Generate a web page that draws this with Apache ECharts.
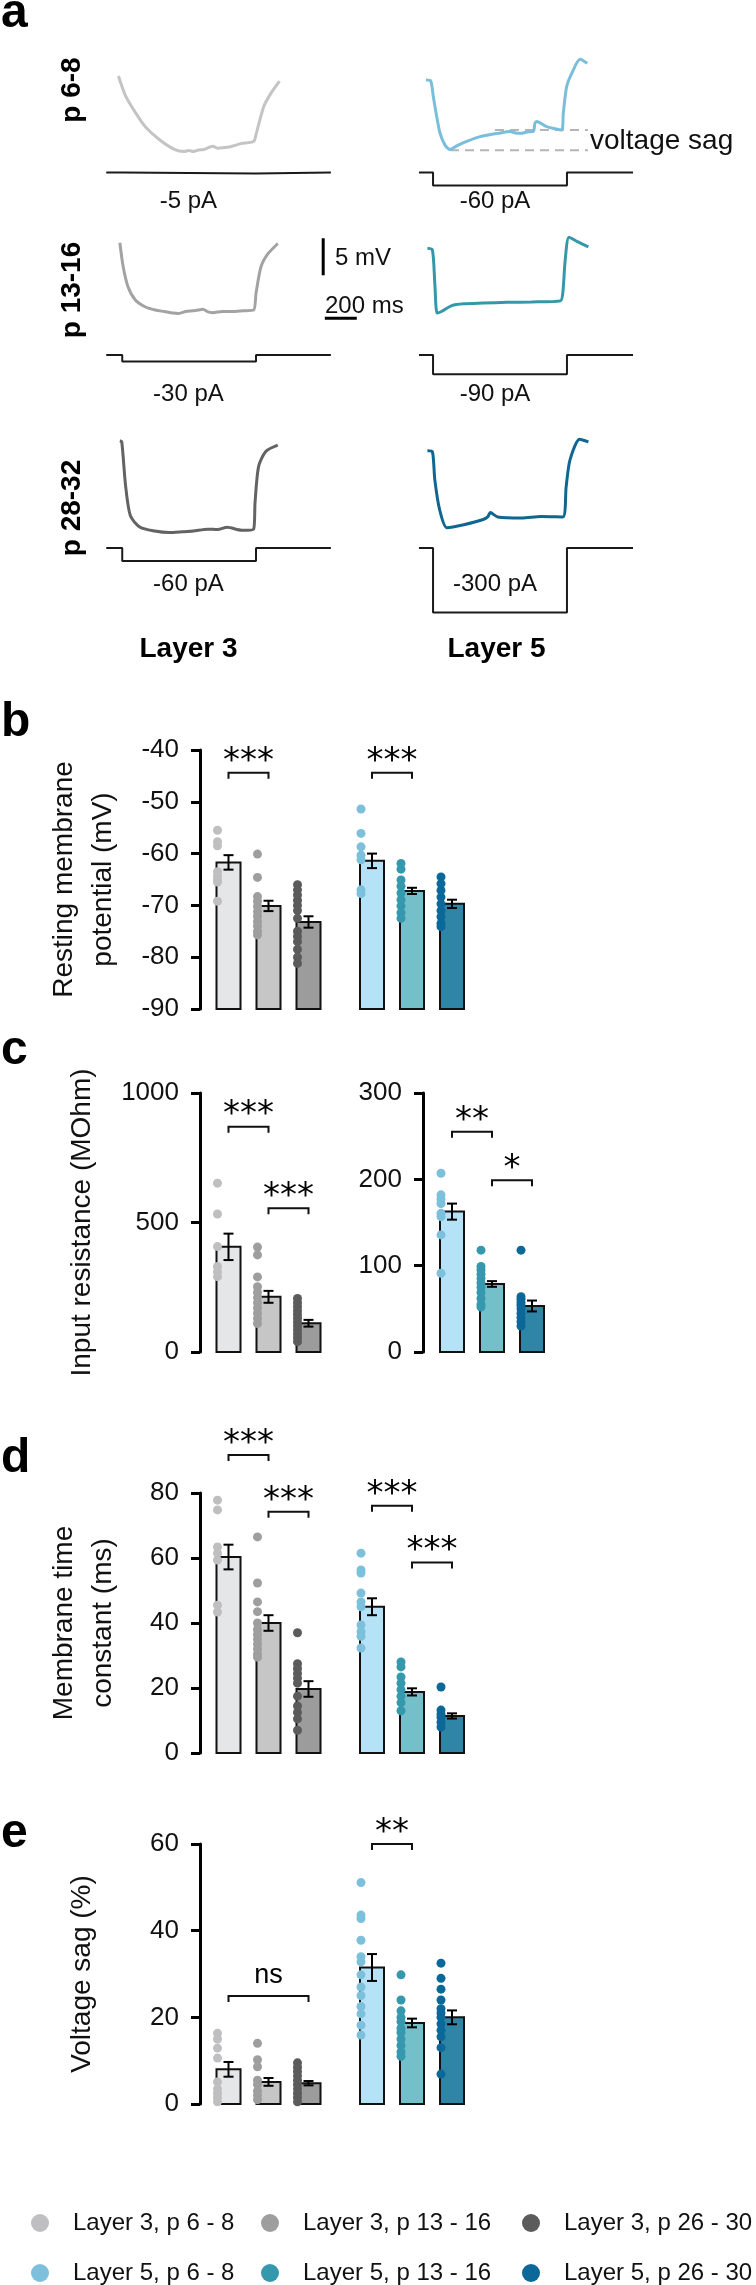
<!DOCTYPE html>
<html><head><meta charset="utf-8">
<script src="https://cdn.jsdelivr.net/npm/echarts@6/dist/echarts.min.js"></script>
<style>html,body{margin:0;padding:0;background:#fff}#chart{width:756px;height:2285px}</style>
</head><body><div id="chart"></div>
<script>
// ---------------- DATA ----------------
const groupsL3 = ['Layer 3, p 6 - 8', 'Layer 3, p 13 - 16', 'Layer 3, p 26 - 30'];
const groupsL5 = ['Layer 5, p 6 - 8', 'Layer 5, p 13 - 16', 'Layer 5, p 26 - 30'];
const rowLabels = ['p 6-8', 'p 13-16', 'p 28-32'];
const layerLabels = ['Layer 3', 'Layer 5'];

// example voltage traces: [time (ms), membrane potential change (mV)]
const traceL3_p6 = [[0,0],[47,-2.8],[108,-5.0],[168,-6.85],[259,-8.65],[349,-9.9],[410,-10.2],[440,-10.05],[470,-10.2],[500,-10.0],[531,-9.95],[560,-9.7],[591,-9.5],[620,-9.75],[651,-9.7],[700,-9.55],[740,-9.3],[772,-9.1],[810,-9.0],[847,-8.8],[862,-7.75],[908,-4.15],[953,-2.35],[1007,-0.7]];
const traceL5_p6 = [[0,0],[29,-0.1],[46,-2.3],[67,-4.95],[88,-7.2],[119,-8.8],[150,-9.4],[192,-8.9],[254,-8.3],[338,-7.65],[421,-7.3],[450,-7.2],[525,-6.95],[560,-7.15],[588,-7.2],[640,-7.0],[671,-6.95],[681,-5.85],[692,-5.6],[754,-6.3],[848,-6.75],[858,-4.5],[879,-0.9],[911,0.9],[963,2.8],[1008,2.25]];
const traceL3_p13 = [[9,0],[30,-3.25],[60,-5.95],[106,-7.75],[166,-8.65],[230,-9.1],[287,-9.3],[340,-9.5],[377,-9.55],[420,-9.3],[468,-9.2],[500,-9.1],[528,-9.0],[560,-9.35],[589,-9.45],[650,-9.3],[709,-9.3],[780,-9.2],[845,-9.1],[860,-6.85],[891,-3.25],[936,-1.45],[996,-0.1]];
const traceL5_p13 = [[9,0],[40,-0.23],[55,-4.7],[70,-8.75],[100,-8.5],[161,-7.75],[236,-7.5],[356,-7.4],[508,-7.3],[659,-7.25],[840,-7.1],[855,-6.05],[870,-1.6],[894,1.5],[946,0.9],[1015,0.2]];
const traceL3_p28 = [[9,0],[21,-0.14],[45,-6.1],[75,-10.15],[136,-11.7],[227,-12.2],[317,-12.4],[400,-12.3],[468,-12.2],[558,-11.95],[620,-12.0],[680,-11.7],[770,-12.1],[845,-11.95],[854,-8.35],[876,-3.5],[921,-1.45],[996,-0.6]];
const traceL5_p28 = [[9,0],[40,-0.14],[55,-3.9],[85,-7.95],[131,-10.4],[236,-10.0],[357,-9.3],[387,-8.9],[402,-8.35],[448,-8.95],[598,-9.1],[719,-8.9],[855,-8.95],[876,-4.85],[900,-1.25],[961,1.55],[1015,1.2]];
// injected current steps (pA) and timing (ms): [line start, step on, step off, line end]
const stimL3 = [-5, -30, -60];
const stimL5 = [-60, -90, -300];
const stimTimesL3 = [-76, 24, 860, 1328];
const stimTimesL5 = [-44, 44, 881, 1294];
const sagUpperMv = -6.75, sagLowerMv = -9.5;
const scaleBarMv = 5, scaleBarMs = 200;

// b: resting membrane potential (mV)
const rmpMeanL3 = [-61.7, -70.1, -73.2];
const rmpSemL3 = [1.4, 1.0, 1.1];
const rmpDotsL3 = [[-55.5,-57.7,-58.5,-63.5,-64.3,-65,-65.5,-69.2],[-60.1,-64.6,-68.3,-69.2,-70.2,-71.2,-72.1,-73.1,-74,-75,-75.7],[-66,-67,-68,-69,-70,-71,-72.5,-75,-76,-77,-78.5,-80,-81.2]];
const rmpMeanL5 = [-61.4, -67.2, -69.7];
const rmpSemL5 = [1.4, 0.6, 0.8];
const rmpDotsL5 = [[-51.4,-56.1,-58.7,-60.3,-61.2,-67,-67.7],[-61.9,-63,-65.1,-66.3,-67.6,-68.9,-70.1,-71.4,-72.5],[-64.5,-65.8,-67.1,-68.4,-69.7,-71,-72.2,-73.5,-74.1]];
const rmpSigL3 = [[0,1,-44.4,'***']];
const rmpSigL5 = [[0,1,-44.4,'***']];

// c: input resistance (MOhm)
const rinMeanL3 = [406, 213, 111];
const rinSemL3 = [51, 23, 13];
const rinDotsL3 = [[652,533,407,330,310,291],[405,375,290,252,230,210,190,170,150,130,110],[207,190,175,160,145,130,115,100,85,70,55,40]];
const rinMeanL5 = [162.6, 78.8, 53.3];
const rinSemL5 = [9.3, 3.3, 6.3];
const rinDotsL5 = [[207,182,177,172,160.6,156.8,135.6,91.2],[118,99,95,90,85,80,75,69,62,55,52],[118,64,61,57,54,50,45,40,35,30]];
const rinSigL3 = [[0,1,870,'***'],[1,2,555,'***']];
const rinSigL5 = [[0,1,255,'**'],[1,2,199,'*']];

// d: membrane time constant (ms)
const tauMeanL3 = [60.3, 40, 19.7];
const tauSemL3 = [3.8, 2.4, 2.4];
const tauDotsL3 = [[77.8,74.8,63.4,61.5,59.4,45.5,43.4],[66.5,52.3,46.5,43.5,40,38,36.5,35,33.5,32,30.5,29.5],[37,27.5,26,24.5,23,21.5,17.5,14.5,12.5,10.5,7]];
const tauMeanL5 = [45, 18.8, 11.4];
const tauSemL5 = [2.6, 1.1, 0.8];
const tauDotsL5 = [[61.5,56.3,55.4,49.2,46.5,45,39.4,37.3,35.9,32.3],[28,26.5,23.4,21.5,19.5,17.5,15.5,13],[20.3,13.2,12,11,9.5,8]];
const tauSigL3 = [[0,1,91.7,'***'],[1,2,74.2,'***']];
const tauSigL5 = [[0,1,76.1,'***'],[1,2,58.6,'***']];

// e: voltage sag (%)
const sagMeanL3 = [8.0, 5.1, 4.8];
const sagSemL3 = [1.7, 0.9, 0.5];
const sagDotsL3 = [[16.3,15,12.9,10.6,5.1,3.5,2.5,1.5,0.5],[14,10.2,8.6,5.5,4.5,3,2,1],[9.5,8.5,7.5,6.5,5.5,4.5,3.5,2.5,1.5,0.5]];
const sagMeanL5 = [31.5, 18.7, 20];
const sagSemL5 = [3.1, 1.0, 1.6];
const sagDotsL5 = [[51.1,43.6,42.8,37.8,34,32.8,29.8,27,25,22.5,20.8,18.2,15.9],[29.8,24,21.5,20,19,17.5,16.5,15,13.5,12,11],[32.5,29,26.5,24,22,21,20,18.5,17,15.5,13,6.9]];
const sagSigL3 = [[0,2,24.9,'ns']];
const sagSigL5 = [[0,1,60,'**']];

// ---------------- STYLE ----------------
const FONT = 'Liberation Sans, Arial, Helvetica, sans-serif';
const barColL3 = ['#e5e6e7', '#c6c6c6', '#9c9c9c'];
const barColL5 = ['#b5e2f6', '#73bfca', '#2f85a6'];
const dotColL3 = ['#bfbfc1', '#9e9e9e', '#5b5b5b'];
const dotColL5 = ['#7cc0dc', '#3698ad', '#0b6898'];
const traceColL3 = ['#c4c4c4', '#a3a3a3', '#636363'];
const traceColL5 = ['#79bedb', '#3597aa', '#0f6690'];

const grids = [], xAxes = [], yAxes = [], series = [], graphics = [];
function addGrid(g, xa, ya) {
  g.outerBoundsMode = 'none';
  grids.push(g); const i = grids.length - 1;
  xa.gridIndex = i; ya.gridIndex = i; xAxes.push(xa); yAxes.push(ya); return i;
}

// ---------------- PANEL A ----------------
const MS_PX = 6.25, MV_PX = 0.1351, PA_PX = 1 / 0.215;
const tMin = -100, tMax = 1550;
const colT0 = [118.4, 426];
const traceY0 = [[76, 242.7, 440.7], [80, 248.3, 450.7]];
const stimBase = [172.5, 355, 548];
const traces = [[traceL3_p6, traceL3_p13, traceL3_p28], [traceL5_p6, traceL5_p13, traceL5_p28]];
const traceCols = [traceColL3, traceColL5];
const stims = [stimL3, stimL5];
const stimTimes = [stimTimesL3, stimTimesL5];
const vMin = -14, vMax = 5, iMin = -320, iMax = 20;
const traceGridIdx = [[], []];
for (let c = 0; c < 2; c++) {
  for (let r = 0; r < 3; r++) {
    const left = colT0[c] + tMin / MS_PX;
    const width = (tMax - tMin) / MS_PX;
    const gi = addGrid({left: left, top: traceY0[c][r] - vMax / MV_PX, width: width, height: (vMax - vMin) / MV_PX},
      {type: 'value', min: tMin, max: tMax, show: false},
      {type: 'value', min: vMin, max: vMax, show: false});
    traceGridIdx[c][r] = gi;
    series.push({type: 'line', xAxisIndex: gi, yAxisIndex: gi, data: traces[c][r], showSymbol: false, smooth: 0.25,
      lineStyle: {color: traceCols[c][r], width: 3}, silent: true, z: 2});
    const gs = addGrid({left: left, top: stimBase[r] - iMax / PA_PX, width: width, height: (iMax - iMin) / PA_PX},
      {type: 'value', min: tMin, max: tMax, show: false},
      {type: 'value', min: iMin, max: iMax, show: false});
    const t = stimTimes[c], a = stims[c][r];
    series.push({type: 'line', xAxisIndex: gs, yAxisIndex: gs, showSymbol: false, silent: true,
      data: [[t[0],0],[t[1],0],[t[1],a],[t[2],a],[t[2],0],[t[3],0]],
      lineStyle: {color: '#1a1a1a', width: 2}});
    graphics.push({type: 'text', x: colT0[c] + (c === 0 ? 70 : 69), y: [201, 394.5, 584][r],
      style: {text: a + ' pA', font: '24px ' + FONT, fill: '#111', align: 'center', verticalAlign: 'middle'}});
  }
}
// voltage sag dashed guides (L5, p 6-8)
series.push({type: 'line', xAxisIndex: traceGridIdx[1][0], yAxisIndex: traceGridIdx[1][0], showSymbol: false, silent: true,
  data: [[431, sagUpperMv], [1012, sagUpperMv]], lineStyle: {color: '#b5b5b5', width: 2, type: [9, 6]}, z: 1});
series.push({type: 'line', xAxisIndex: traceGridIdx[1][0], yAxisIndex: traceGridIdx[1][0], showSymbol: false, silent: true,
  data: [[150, sagLowerMv], [1012, sagLowerMv]], lineStyle: {color: '#b5b5b5', width: 2, type: [9, 6]}, z: 1});
// scale bars (in L3 p13-16 trace grid)
const sbG = traceGridIdx[0][1];
series.push({type: 'line', xAxisIndex: sbG, yAxisIndex: sbG, showSymbol: false, silent: true,
  data: [[1280, 0.6], [1280, 0.6 - scaleBarMv]], lineStyle: {color: '#000', width: 3}});
series.push({type: 'line', xAxisIndex: sbG, yAxisIndex: sbG, showSymbol: false, silent: true,
  data: [[1290, -10.2], [1290 + scaleBarMs, -10.2]], lineStyle: {color: '#000', width: 3}});
graphics.push({type: 'text', x: 335, y: 258, style: {text: scaleBarMv + ' mV', font: '24px ' + FONT, fill: '#111', align: 'left', verticalAlign: 'middle'}});
graphics.push({type: 'text', x: 325, y: 306, style: {text: scaleBarMs + ' ms', font: '24px ' + FONT, fill: '#111', align: 'left', verticalAlign: 'middle'}});
graphics.push({type: 'text', x: 590, y: 141.6, style: {text: 'voltage sag', font: '28px ' + FONT, fill: '#111', align: 'left', verticalAlign: 'middle'}});
const rowY = [90, 290, 508];
rowLabels.forEach((t, r) => graphics.push({type: 'text', x: 72, y: rowY[r], rotation: Math.PI / 2,
  style: {text: t, font: 'bold 28px ' + FONT, fill: '#000', align: 'center', verticalAlign: 'middle'}}));
layerLabels.forEach((t, c) => graphics.push({type: 'text', x: [188.5, 496.5][c], y: 649.6,
  style: {text: t, font: 'bold 28px ' + FONT, fill: '#000', align: 'center', verticalAlign: 'middle'}}));
[['a', 13.6], ['b', 722.6], ['c', 1050.6], ['d', 1458.6], ['e', 1833.6]].forEach(p => graphics.push({type: 'text', x: 1, y: p[1],
  style: {text: p[0], font: 'bold 48px ' + FONT, fill: '#000', align: 'left', verticalAlign: 'middle'}}));

// ---------------- PANELS B-E ----------------
function barRender(colors, min) {
  return function (params, api) {
    const i = api.value(0);
    const top = api.coord([i, api.value(1)]);
    const base = api.coord([i, min]);
    return {type: 'rect', shape: {x: top[0] - 12, y: top[1], width: 24, height: base[1] - top[1]},
      style: {fill: colors[i], stroke: '#111', lineWidth: 2}};
  };
}
function errRender(params, api) {
  const i = api.value(0), m = api.value(1), s = api.value(2);
  const hi = api.coord([i, m + s]), lo = api.coord([i, m - s]);
  const x = hi[0], st = {stroke: '#000', lineWidth: 2};
  return {type: 'group', children: [
    {type: 'line', shape: {x1: x, y1: hi[1], x2: x, y2: lo[1]}, style: st},
    {type: 'line', shape: {x1: x - 5, y1: hi[1], x2: x + 5, y2: hi[1]}, style: st},
    {type: 'line', shape: {x1: x - 5, y1: lo[1], x2: x + 5, y2: lo[1]}, style: st}]};
}
function sigRender(labels) {
  return function (params, api) {
    const a = api.coord([api.value(0), api.value(2)]);
    const b = api.coord([api.value(1), api.value(2)]);
    const lab = labels[params.dataIndex];
    const star = lab.indexOf('*') >= 0;
    return {type: 'group', children: [
      {type: 'polyline', shape: {points: [[a[0], a[1] + 6], [a[0], a[1]], [b[0], b[1]], [b[0], b[1] + 6]]},
        style: {stroke: '#111', fill: null, lineWidth: 2}},
      {type: 'text', x: (a[0] + b[0]) / 2, y: a[1] - (star ? 11 : 21),
        style: {text: lab, fill: '#000', font: star ? '34px DejaVu Sans' : '27px ' + FONT, align: 'center', verticalAlign: 'middle'}}]};
  };
}
function valueAxis(min, max, interval, visible, offset, name, nameGap) {
  const ax = {type: 'value', min: min, max: max, interval: interval, splitLine: {show: false}};
  if (!visible) { ax.show = false; return ax; }
  Object.assign(ax, {offset: offset,
    axisLine: {show: true, lineStyle: {color: '#000', width: 3}},
    axisTick: {show: true, length: 9, lineStyle: {color: '#000', width: 3}},
    axisLabel: {fontSize: 26, color: '#111', margin: 21, fontFamily: FONT, formatter: v => String(v)}});
  if (name) Object.assign(ax, {name: name, nameLocation: 'middle', nameRotate: 90, nameGap: nameGap,
    nameTextStyle: {fontSize: 28, lineHeight: 39, color: '#111', fontFamily: FONT}});
  return ax;
}
function addGroup(gridBox, yAx, names, mean, sem, dots, sig, barCols, dotCols, min) {
  const gi = addGrid(gridBox, {type: 'category', data: names, show: false}, yAx);
  series.push({type: 'custom', xAxisIndex: gi, yAxisIndex: gi, renderItem: barRender(barCols, min), silent: true, z: 1,
    data: mean.map((m, i) => [i, m])});
  names.forEach((n, k) => series.push({type: 'scatter', name: n, xAxisIndex: gi, yAxisIndex: gi, z: 2,
    symbolSize: 9, symbolOffset: [-11, 0], itemStyle: {color: dotCols[k], opacity: 1},
    data: dots[k].map(v => [k, v])}));
  series.push({type: 'custom', xAxisIndex: gi, yAxisIndex: gi, renderItem: errRender, silent: true, z: 3,
    encode: {x: 0, y: 1}, data: mean.map((m, i) => [i, m, sem[i]])});
  series.push({type: 'custom', xAxisIndex: gi, yAxisIndex: gi, renderItem: sigRender(sig.map(s => s[3])), silent: true, z: 3,
    encode: {x: 0, y: 2}, data: sig.map(s => [s[0], s[1], s[2]])});
}
const panels = [
  {top: 750, h: 259, min: -90, max: -40, iv: 10, name: 'Resting membrane\npotential (mV)', gap: 77,
   L3: [rmpMeanL3, rmpSemL3, rmpDotsL3, rmpSigL3], L5: [rmpMeanL5, rmpSemL5, rmpDotsL5, rmpSigL5], right: null},
  {top: 1093, h: 259, min: 0, max: 1000, iv: 500, name: 'Input resistance (MOhm)', gap: 98,
   L3: [rinMeanL3, rinSemL3, rinDotsL3, rinSigL3], L5: [rinMeanL5, rinSemL5, rinDotsL5, rinSigL5], right: {min: 0, max: 300, iv: 100}},
  {top: 1493, h: 260, min: 0, max: 80, iv: 20, name: 'Membrane time\nconstant (ms)', gap: 77,
   L3: [tauMeanL3, tauSemL3, tauDotsL3, tauSigL3], L5: [tauMeanL5, tauSemL5, tauDotsL5, tauSigL5], right: null},
  {top: 1844, h: 260, min: 0, max: 60, iv: 20, name: 'Voltage sag (%)', gap: 98,
   L3: [sagMeanL3, sagSemL3, sagDotsL3, sagSigL3], L5: [sagMeanL5, sagSemL5, sagDotsL5, sagSigL5], right: null}
];
panels.forEach(p => {
  addGroup({left: 208.5, top: p.top, width: 120, height: p.h},
    valueAxis(p.min, p.max, p.iv, true, 8.5, p.name, p.gap),
    groupsL3, p.L3[0], p.L3[1], p.L3[2], p.L3[3], barColL3, dotColL3, p.min);
  if (p.right) {
    addGroup({left: 432, top: p.top, width: 120, height: p.h},
      valueAxis(p.right.min, p.right.max, p.right.iv, true, 9, null, 0),
      groupsL5, p.L5[0], p.L5[1], p.L5[2], p.L5[3], barColL5, dotColL5, p.right.min);
  } else {
    addGroup({left: 352, top: p.top, width: 120, height: p.h},
      valueAxis(p.min, p.max, p.iv, false),
      groupsL5, p.L5[0], p.L5[1], p.L5[2], p.L5[3], barColL5, dotColL5, p.min);
  }
});

// legend: one component per entry, laid out in 2 rows x 3 columns
const legendColLeft = [31, 261, 522];
const legendRowTop = [2211, 2261];
const legends = [];
[groupsL3, groupsL5].forEach((row, r) => row.forEach((name, c) => legends.push({
  data: [name], left: legendColLeft[c], top: legendRowTop[r], orient: 'horizontal',
  itemWidth: 18, itemHeight: 18, icon: 'circle', padding: 0, selectedMode: false,
  textStyle: {fontSize: 24, color: '#111', fontFamily: FONT, padding: [0, 0, 0, 19]}
})));

const option = {
  animation: false,
  backgroundColor: '#fff',
  textStyle: {fontFamily: FONT},
  grid: grids, xAxis: xAxes, yAxis: yAxes, series: series,
  legend: legends,
  graphic: graphics
};
const chart = echarts.init(document.getElementById('chart'), null, {renderer: 'canvas'});
chart.setOption(option);
</script></body></html>
